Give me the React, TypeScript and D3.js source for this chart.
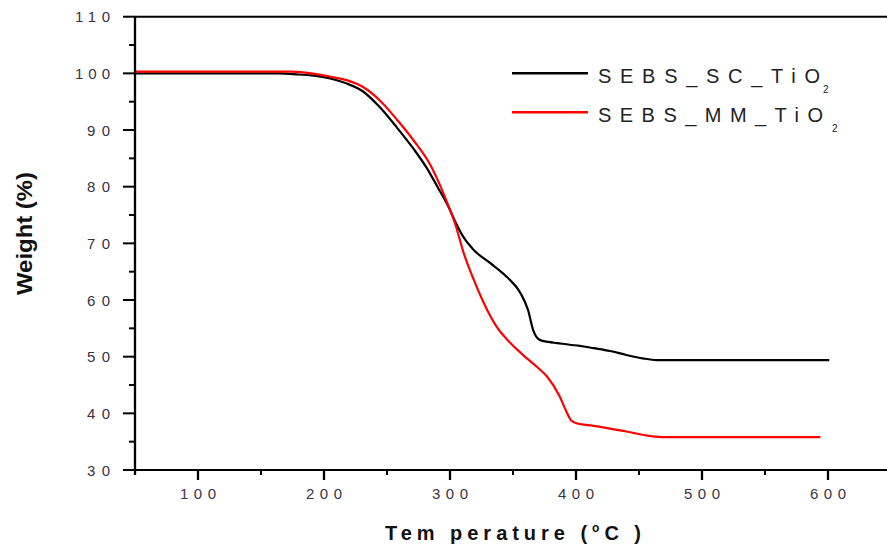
import React from "react";
import * as d3 from "d3";

const tempsSC = [50, 100, 150, 165, 180, 192, 205, 218, 231, 244, 258, 271, 281, 290, 300, 304, 311, 319, 332, 345, 356, 362, 366, 371, 378, 385, 395, 403, 414, 427, 440, 453, 464, 500, 550, 601];
const weightsSC = [100.0, 100.0, 100.0, 100.0, 99.8, 99.6, 99.1, 98.2, 96.8, 94.1, 90.4, 86.7, 83.5, 80.0, 75.9, 73.9, 71.0, 68.8, 66.5, 64.1, 61.2, 58.2, 54.7, 53.0, 52.6, 52.4, 52.1, 51.9, 51.5, 51.0, 50.3, 49.7, 49.4, 49.4, 49.4, 49.4];

const tempsMM = [50, 100, 150, 175, 190, 205, 218, 231, 244, 258, 271, 284, 291, 300, 304, 311, 319, 327, 337, 348, 361, 370, 377, 387, 392, 396, 401, 414, 440, 459, 470, 530, 594];
const weightsMM = [100.3, 100.3, 100.3, 100.3, 100.0, 99.4, 98.8, 97.6, 95.3, 91.8, 88.2, 84.0, 80.8, 75.9, 73.5, 68.2, 63.5, 59.4, 55.3, 52.4, 49.7, 48.0, 46.5, 43.0, 40.5, 38.8, 38.2, 37.8, 36.8, 36.0, 35.8, 35.8, 35.8];

const xTicks = [100, 200, 300, 400, 500, 600];
const xMinorTicks = [50, 150, 250, 350, 450, 550, 650];
const yTicks = [30, 40, 50, 60, 70, 80, 90, 100, 110];
const yMinorTicks = [35, 45, 55, 65, 75, 85, 95, 105];

const seriesNames = ["SEBS_SC_TiO", "SEBS_MM_TiO"];
const seriesColors = ["#000000", "#ff0000"];

export default function App() {
  const W = 887, H = 550;
  const x = d3.scaleLinear().domain([50, 650]).range([135, 891]);
  const y = d3.scaleLinear().domain([30, 110]).range([470, 16.7]);
  const line = d3
    .line<[number, number]>()
    .x((d) => x(d[0]))
    .y((d) => y(d[1]))
    .curve(d3.curveMonotoneX);
  const sc: [number, number][] = tempsSC.map((t, i) => [t, weightsSC[i]]);
  const mm: [number, number][] = tempsMM.map((t, i) => [t, weightsMM[i]]);
  const font = "Arial, 'Liberation Sans', sans-serif";
  const tickColor = "#3a3440";

  return (
    <svg
      width={W}
      height={H}
      style={{ position: "absolute", left: 0, top: 0, background: "#fff" }}
      fontFamily={font}
    >
      <rect width={W} height={H} fill="#fff" />
      {/* curves */}
      <path d={line(sc) || ""} fill="none" stroke={seriesColors[0]} strokeWidth={2.2} />
      <path d={line(mm) || ""} fill="none" stroke={seriesColors[1]} strokeWidth={2.2} />

      {/* axes lines */}
      <line x1={x(50)} x2={W} y1={y(110)} y2={y(110)} stroke="#000" strokeWidth={2} />
      <line x1={x(50)} x2={W} y1={y(30)} y2={y(30)} stroke="#000" strokeWidth={2} />
      <line x1={x(50)} x2={x(50)} y1={y(110)} y2={y(30) + 5} stroke="#000" strokeWidth={2.3} />

      {/* y ticks */}
      {yTicks.map((t) => (
        <g key={"y" + t}>
          <line x1={123} x2={x(50)} y1={y(t)} y2={y(t)} stroke="#000" strokeWidth={2} />
          <text
            x={75}
            y={y(t) + 5.5}
            fontSize={15}
            fill={tickColor}
            textLength={t >= 100 ? 35 : 23}
            lengthAdjust="spacing"
            dx={t >= 100 ? 0 : 12}
          >
            {String(t)}
          </text>
        </g>
      ))}
      {yMinorTicks.map((t) => (
        <line key={"ym" + t} x1={129} x2={x(50)} y1={y(t)} y2={y(t)} stroke="#000" strokeWidth={2} />
      ))}

      {/* x ticks */}
      {xTicks.map((t) => (
        <g key={"x" + t}>
          <line x1={x(t)} x2={x(t)} y1={y(30)} y2={y(30) + 10} stroke="#000" strokeWidth={2.3} />
          <text
            x={x(t) - 18}
            y={499}
            fontSize={15}
            fill={tickColor}
            textLength={36}
            lengthAdjust="spacing"
          >
            {String(t)}
          </text>
        </g>
      ))}
      {xMinorTicks.map((t) => (
        <line key={"xm" + t} x1={x(t)} x2={x(t)} y1={y(30)} y2={y(30) + 5} stroke="#000" strokeWidth={2} />
      ))}

      {/* axis titles */}
      <text
        x={385}
        y={540}
        fontSize={20}
        fontWeight="bold"
        fill="#111"
        textLength={256}
        lengthAdjust="spacing"
      >
        Tem perature (<tspan dy={-8} fontSize={12}>o</tspan><tspan dy={8}>C )</tspan>
      </text>
      <text
        transform="translate(31.5,295) rotate(-90)"
        x={0}
        y={0}
        fontSize={22}
        fontWeight="bold"
        fill="#111"
        textLength={123}
        lengthAdjust="spacingAndGlyphs"
      >
        Weight (%)
      </text>

      {/* legend */}
      {seriesNames.map((name, i) => {
        const ly = i === 0 ? 73.3 : 112.3;
        const by = i === 0 ? 83.3 : 121.7;
        const len = i === 0 ? 222 : 225;
        return (
          <g key={name}>
            <line x1={512} x2={588} y1={ly} y2={ly} stroke={seriesColors[i]} strokeWidth={2.5} />
            <text
              x={598}
              y={by}
              fontSize={20}
              fill="#222"
              textLength={len}
              lengthAdjust="spacing"
            >
              {name}
            </text>
            <text x={598 + len + (i === 0 ? 3 : 9)} y={by + 10} fontSize={10} fill="#222">
              2
            </text>
          </g>
        );
      })}
    </svg>
  );
}
